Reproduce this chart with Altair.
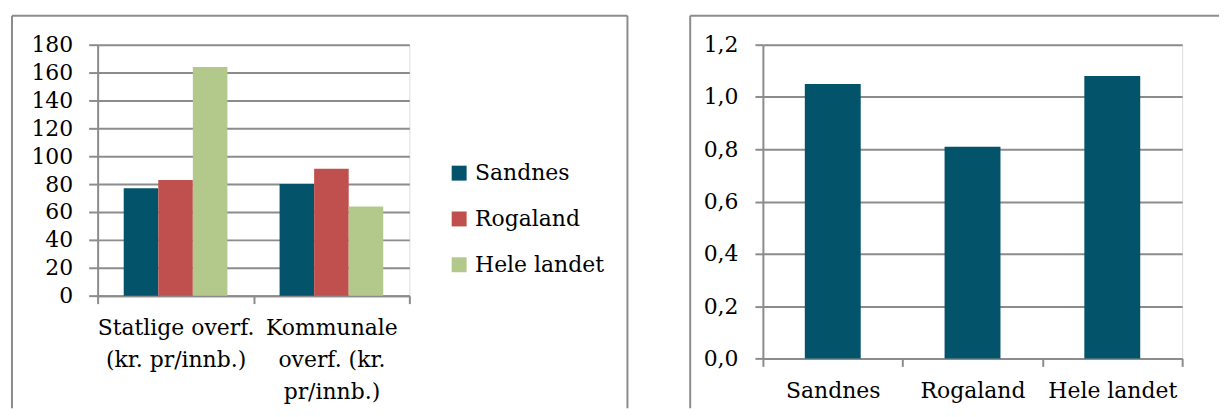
import altair as alt
import pandas as pd

# ---- data ----
cats_left = ["Statlige overf. (kr. pr/innb.)", "Kommunale overf. (kr. pr/innb.)"]
series = ["Sandnes", "Rogaland", "Hele landet"]
sandnes_vals = [77, 80]
rogaland_vals = [83, 91]
hele_vals = [164, 64]

cats_right = ["Sandnes", "Rogaland", "Hele landet"]
right_vals = [1.05, 0.81, 1.08]

colors = ["#03536B", "#C0504D", "#B3C98C"]
FONT = "DejaVu Serif"
GRID = "#8c8c8c"

rows = []
for s, vals in zip(series, [sandnes_vals, rogaland_vals, hele_vals]):
    for c, v in zip(cats_left, vals):
        rows.append({"kategori": c, "serie": s, "verdi": v})
df_left = pd.DataFrame(rows)
df_right = pd.DataFrame({"sted": cats_right, "verdi": right_vals})
one = pd.DataFrame({"a": [0]})

LW, LH = 313, 252
RW, RH = 421, 315

label_expr_left = (
    "datum.label == 'Statlige overf. (kr. pr/innb.)' ? ['Statlige overf.', '(kr. pr/innb.)'] "
    ": (datum.label == 'Kommunale overf. (kr. pr/innb.)' ? ['Kommunale', 'overf. (kr.', 'pr/innb.)'] : '')"
)

bars_left = alt.Chart(df_left).mark_bar().encode(
    x=alt.X("kategori:N", sort=cats_left, title=None,
            scale=alt.Scale(paddingInner=0, paddingOuter=0),
            axis=alt.Axis(labelAngle=0, tickBand="extent", tickSize=8, tickWidth=2,
                          tickColor=GRID, domainColor=GRID, domainWidth=2,
                          labelExpr=label_expr_left, labelLineHeight=32,
                          labelPadding=14, labelFont=FONT, labelFontSize=22,
                          labelColor="black")),
    xOffset=alt.XOffset("serie:N", sort=series,
                        scale=alt.Scale(paddingInner=0, paddingOuter=0.755)),
    y=alt.Y("verdi:Q", title=None, scale=alt.Scale(domain=[0, 180], nice=False),
            axis=alt.Axis(values=list(range(0, 181, 20)), grid=True, gridColor=GRID,
                          gridWidth=2, tickSize=9, tickWidth=2, tickColor=GRID,
                          domainColor=GRID, domainWidth=2, labelPadding=16,
                          labelFont=FONT, labelFontSize=22, labelColor="black")),
    color=alt.Color("serie:N", sort=series,
                    scale=alt.Scale(domain=series, range=colors),
                    legend=alt.Legend(title=None, orient="none", legendX=352, legendY=118,
                                      symbolType="square", symbolSize=225,
                                      symbolStrokeWidth=0, labelFont=FONT,
                                      labelFontSize=22, labelColor="black",
                                      rowPadding=24, labelOffset=5, padding=0)),
)

def rule(x, x2, y, y2):
    return alt.Chart(one).mark_rule(color=GRID, strokeWidth=2).encode(
        x=alt.value(x), x2=alt.value(x2), y=alt.value(y), y2=alt.value(y2))

frame_left = [
    rule(-86, 532, -29, -29),
    rule(-86, -86, -29, 365),
    rule(532, 532, -29, 365),
]

left = alt.layer(bars_left, *frame_left).properties(width=LW, height=LH)

bars_right = alt.Chart(df_right).mark_bar(
    width=alt.RelativeBandSize(0.4), color=colors[0]).encode(
    x=alt.X("sted:N", sort=cats_right, title=None,
            scale=alt.Scale(paddingInner=0, paddingOuter=0),
            axis=alt.Axis(labelAngle=0, tickBand="extent", tickSize=8, tickWidth=2,
                          tickColor=GRID, domainColor=GRID, domainWidth=2,
                          labelPadding=14, labelFont=FONT, labelFontSize=22,
                          labelColor="black")),
    y=alt.Y("verdi:Q", title=None, scale=alt.Scale(domain=[0, 1.2], nice=False),
            axis=alt.Axis(values=[0, 0.2, 0.4, 0.6, 0.8, 1.0, 1.2], grid=True,
                          gridColor=GRID, gridWidth=2, tickSize=8, tickWidth=2,
                          tickColor=GRID, domainColor=GRID, domainWidth=2,
                          labelPadding=17, labelFont=FONT, labelFontSize=22,
                          labelColor="black",
                          labelExpr="replace(format(datum.value, '.1f'), '.', ',')")),
)

frame_right = [
    rule(-73, 458, -29, -29),
    rule(-73, -73, -29, 365),
]

right = alt.layer(bars_right, *frame_right).properties(width=RW, height=RH)

chart = alt.hconcat(left, right, spacing=59).properties(
    padding={"left": 2, "top": 5, "right": 0, "bottom": 0}
).configure_view(stroke=None).configure(background="white")

chart.save("out.html", embed_options={"renderer": "svg", "actions": False})
